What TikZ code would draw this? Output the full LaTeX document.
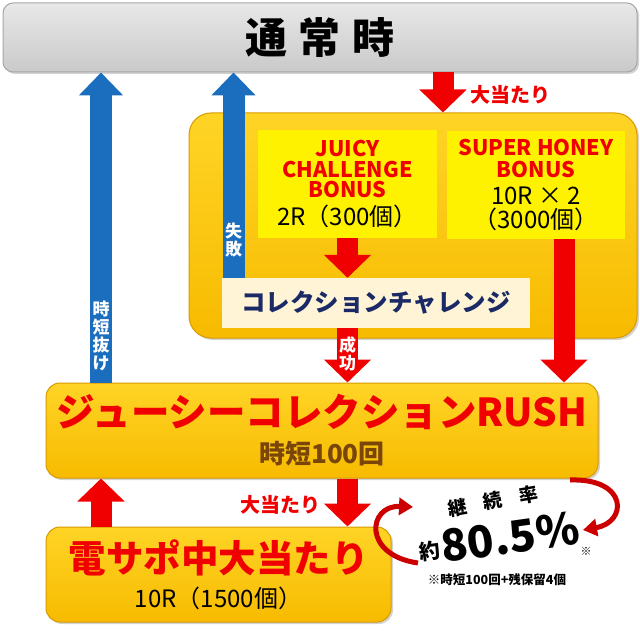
\documentclass[tikz,border=0pt]{standalone}
\usepackage{fontspec}
\setmainfont{Noto Sans CJK JP}[BoldFont={Noto Sans CJK JP Black}]
\usetikzlibrary{arrows.meta,shadows,calc}

\definecolor{panelTop}{HTML}{FFD426}
\definecolor{panelBot}{HTML}{F7BB00}
\definecolor{panelLine}{HTML}{D89A00}
\definecolor{hitRed}{HTML}{F00000}
\definecolor{backBlue}{HTML}{1B6DBE}
\definecolor{chalNavy}{HTML}{1B2A66}
\definecolor{jitanBrown}{HTML}{7A4508}
\definecolor{chalCream}{HTML}{FFF5D6}

\newcommand{\openpar}{\makebox[1em][r]{（}}
\newcommand{\closepar}{\makebox[1em][l]{）}}

\tikzset{
  graybar/.style={draw=gray!70, line width=1pt, rounded corners=10pt,
    top color=gray!18, bottom color=gray!42,
    drop shadow={opacity=0.35, shadow xshift=2pt, shadow yshift=-2pt}},
  panel/.style={draw=panelLine, line width=1pt, rounded corners=#1,
    top color=panelTop, bottom color=panelBot,
    drop shadow={opacity=0.35, shadow xshift=2pt, shadow yshift=-2pt}},
  panel/.default=14pt,
  bonusbox/.style={fill=yellow, inner sep=0pt, align=center},
  redarrow/.style={draw=hitRed, line width=21pt, -{Triangle[width=46pt,length=23pt]}},
  bluearrow/.style={draw=backBlue, line width=22pt, -{Triangle[width=43pt,length=23pt]}},
  vlabel/.style={text=white, font=\bfseries\fontsize{17}{18}\selectfont, align=center, inner sep=0pt},
  curvearrow/.style={draw=hitRed!85!black, line width=5pt, -{Triangle[width=17pt,length=14pt]}},
}

\begin{document}
\begin{tikzpicture}[x=1pt,y=-1pt]
  \useasboundingbox (0,0) rectangle (640,631);

  % boxes
  \node[graybar, minimum width=634pt, minimum height=69pt,
        font=\bfseries\fontsize{42}{42}\selectfont] (normal) at (320,37.5)
        {通\hspace{12pt}常\hspace{12pt}時};
  \node[panel=22pt, minimum width=448pt, minimum height=225pt] (bonusarea) at (413,225.5) {};
  \node[bonusbox, minimum width=179pt, minimum height=108pt,
        font=\fontsize{21.5}{20.5}\selectfont] (juicy) at (347.5,184)
        {\textbf{\color{hitRed}JUICY}\\
         \textbf{\color{hitRed}CHALLENGE}\\
         \textbf{\color{hitRed}BONUS}\\[6pt]
         \fontsize{24}{24}\selectfont 2R\openpar 300個\closepar};
  \node[bonusbox, minimum width=178pt, minimum height=108pt,
        font=\fontsize{21.5}{22}\selectfont] (honey) at (536,185)
        {\textbf{\color{hitRed}SUPER HONEY}\\
         \textbf{\color{hitRed}BONUS}\\[5pt]
         \fontsize{24}{25}\selectfont 10R × 2\\[2pt]
         \fontsize{24}{25}\selectfont \openpar 3000個\closepar};
  \node[fill=chalCream, minimum width=308pt, minimum height=50pt, text=chalNavy,
        font=\bfseries\fontsize{24.5}{24}\selectfont] (challenge) at (376,303)
        {コレクションチャレンジ};
  \node[panel, minimum width=552pt, minimum height=95pt, align=center,
        font=\bfseries\fontsize{26}{30}\selectfont] (rush) at (322,430.5)
        {\color{hitRed}\fontsize{38.5}{40}\selectfont ジューシーコレクションRUSH\\[7pt]
         \color{jitanBrown}時短100回};
  \node[panel, minimum width=345pt, minimum height=95pt, align=center,
        font=\fontsize{24}{24}\selectfont] (densapo) at (218.5,574.5)
        {\textbf{\color{hitRed}\fontsize{37.5}{40}\selectfont 電サポ中大当たり}\\[10pt]
         10R\openpar 1500個\closepar};

  % arrows
  \coordinate (hitx) at (443,0);
  \coordinate (failx) at (233.5,0);
  \coordinate (jitanx) at (101,0);
  \coordinate (honeyx) at ($(honey.south)+(28,0)$);
  \draw[redarrow] (normal.south -| hitx) -- (bonusarea.north -| hitx);
  \draw[redarrow] (juicy.south) -- (challenge.north -| juicy.south);
  \draw[redarrow] (challenge.south -| juicy.south) -- (rush.north -| juicy.south);
  \draw[redarrow] (honeyx) -- (rush.north -| honeyx);
  \draw[redarrow] (rush.south -| juicy.south) -- (densapo.north -| juicy.south);
  \draw[redarrow] (densapo.north -| jitanx) -- (rush.south -| jitanx);
  \draw[bluearrow] (challenge.north -| failx) -- (normal.south -| failx);
  \draw[bluearrow] (rush.north -| jitanx) -- (normal.south -| jitanx);

  % labels
  \node[text=hitRed, font=\bfseries\fontsize{20}{20}\selectfont] (hitlabel) at (510,95) {大当たり};
  \node[text=hitRed, font=\bfseries\fontsize{20}{20}\selectfont] (rushhit) at (280,505) {大当たり};
  \node[vlabel] (faillabel) at ($(challenge.north -| failx)+(0,-38)$) {失\\敗};
  \node[vlabel] (jitanlabel) at ($(rush.north -| jitanx)+(0,-47)$) {時\\短\\抜\\け};
  \node[vlabel] (okl) at ($(challenge.south -| juicy.south)+(0,26)$) {成\\功};

  % continuation rate
  \node[rotate=10, font=\bfseries\fontsize{19}{19}\selectfont] (ratehead) at (493,501)
        {継\hspace{17pt}続\hspace{17pt}率};
  \node[rotate=8, font=\bfseries\fontsize{44}{44}\selectfont] (rate) at (510,537) {80.5\%};
  \node[rotate=8, font=\bfseries\fontsize{21}{21}\selectfont] (rateabout) at (430,551) {約};
  \node[font=\bfseries\fontsize{11}{11}\selectfont] (ratemark) at (586,551) {※};
  \node[font=\bfseries\fontsize{12.5}{13}\selectfont] (ratenote) at (497,580) {※時短100回+残保留4個};

  \coordinate (leftfrom) at (418,563);
  \coordinate (leftto) at (413,507);
  \coordinate (rightfrom) at (570,480);
  \coordinate (rightto) at (583,530);
  \draw[curvearrow] (leftfrom) .. controls (362,555) and (368,505) .. (leftto);
  \draw[curvearrow] (rightfrom) .. controls (628,478) and (628,522) .. (rightto);
\end{tikzpicture}
\end{document}
